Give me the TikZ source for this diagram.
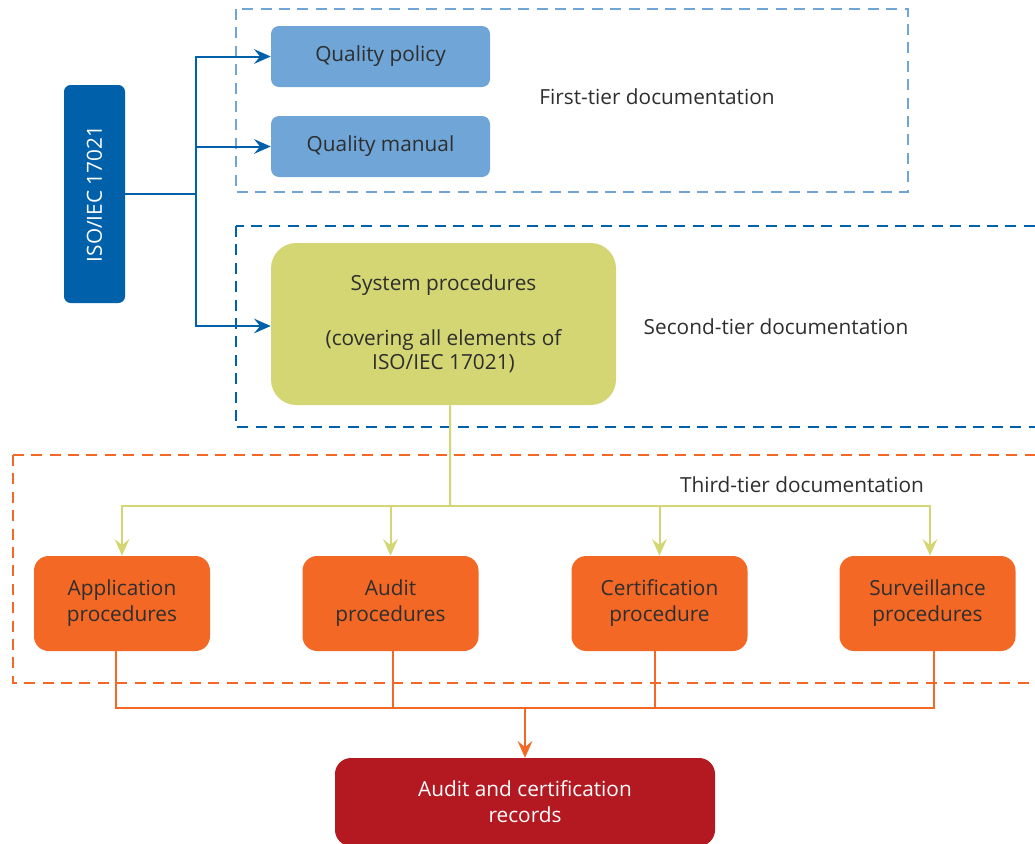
\documentclass[tikz,border=0pt]{standalone}
\usepackage{fontspec}
\usepackage{graphicx}
\setmainfont{Open Sans}
\usetikzlibrary{arrows.meta}
\definecolor{isoblue}{HTML}{0061AA}
\definecolor{lightblue}{HTML}{6FA5D7}
\definecolor{sysgreen}{HTML}{D3D673}
\definecolor{procorange}{HTML}{F26824}
\definecolor{recred}{HTML}{B41821}
\definecolor{textgray}{HTML}{2E2E2E}
\begin{document}
\begin{tikzpicture}[x=0.75pt,y=-0.75pt,
  box/.style={rounded corners=6pt, inner sep=0pt, align=center, text=textgray,
    font=\fontsize{15.6}{18}\selectfont},
  tierlabel/.style={text=textgray, font=\fontsize{15.6}{18}\selectfont, inner sep=0pt},
  tierbox/.style={line width=2.1pt, dash pattern=on 8.2pt off 5.6pt},
  conn/.style={line width=1.5pt},
  tip/.style={-{Stealth[length=12.5pt,width=11pt,inset=4.5pt]}}
]
\useasboundingbox (0,0) rectangle (1035,843);
\clip (0,0) rectangle (1035,843);

% tier frames
\draw[tierbox, lightblue] (236,9) rectangle (908,192);
\draw[tierbox, isoblue] (236,226) rectangle (1060,427);
\draw[tierbox, procorange] (13,455) rectangle (1060,683);

% nodes
\node[box, fill=isoblue, text=white, minimum width=45.75pt, minimum height=163.5pt, rounded corners=5pt]
  (iso) at (94.5,194) {\rotatebox{90}{ISO/IEC 17021}};
\node[box, fill=lightblue, minimum width=164.25pt, minimum height=45.75pt] (qp) at (380.5,56.5) {Quality policy};
\node[box, fill=lightblue, minimum width=164.25pt, minimum height=45.75pt] (qm) at (380.5,146.5) {Quality manual};
\node[box, fill=sysgreen, minimum width=258.75pt, minimum height=121.5pt, rounded corners=19pt]
  (sys) at (443.5,324) {System procedures\\[23pt](covering all elements of\\ISO/IEC 17021)};

\node[tierlabel] (t1) at (657,97) {First-tier documentation};
\node[tierlabel] (t2) at (776,327) {Second-tier documentation};
\node[tierlabel] (t3) at (802,485) {Third-tier documentation};

\tikzset{proc/.style={box, fill=procorange, minimum width=132pt, minimum height=71.25pt, rounded corners=11pt,
  font=\fontsize{15.6}{19.5}\selectfont}}
\node[proc] (app) at (122,603.5) {Application\\procedures};
\node[proc] (aud) at (390.5,603.5) {Audit\\procedures};
\node[proc] (cert) at (659.5,603.5) {Certification\\procedure};
\node[proc] (surv) at (927.5,603.5) {Surveillance\\procedures};

\node[box, fill=recred, text=white, minimum width=285pt, minimum height=66pt, rounded corners=12pt,
  font=\fontsize{15.6}{19.5}\selectfont] (rec) at (525,802) {Audit and certification\\records};

% blue connectors
\coordinate (jb) at (196,194);
\draw[conn, isoblue] (iso.east) -- (jb);
\draw[conn, isoblue, tip] (jb) |- (qp.west);
\draw[conn, isoblue, tip] (jb) |- (qm.west);
\draw[conn, isoblue, tip] (jb) |- ([yshift=-1.5pt]sys.west);

% green connectors
\coordinate (gj) at (450,506);
\draw[conn, sysgreen] ([xshift=4.9pt]sys.south) -- (gj);
\draw[conn, sysgreen, tip] (gj) -| (app.north);
\draw[conn, sysgreen, tip] (gj) -| (aud.north);
\draw[conn, sysgreen, tip] (gj) -| (cert.north);
\draw[conn, sysgreen, tip] (gj) -| ([xshift=1.9pt]surv.north);

% orange connectors
\coordinate (oj) at (525,708);
\draw[conn, procorange] ([xshift=-4.5pt]app.south) |- (oj);
\draw[conn, procorange] ([xshift=1.9pt]aud.south) |- (oj);
\draw[conn, procorange] ([xshift=-3.4pt]cert.south) |- (oj);
\draw[conn, procorange] ([xshift=4.9pt]surv.south) |- (oj);
\draw[conn, procorange, tip] (oj) -- (rec.north);
\end{tikzpicture}
\end{document}
